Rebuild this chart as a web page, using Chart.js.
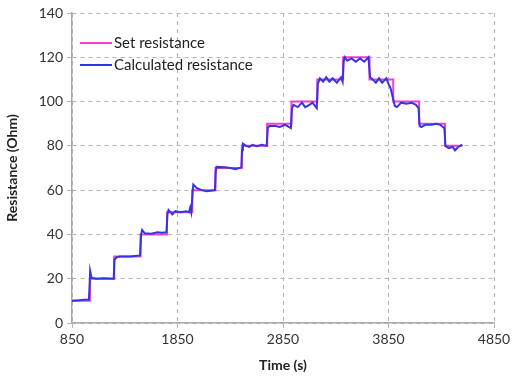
<!DOCTYPE html>
<html>
<head>
<meta charset="utf-8">
<script src="https://cdn.jsdelivr.net/npm/chart.js@4/dist/chart.umd.min.js"></script>
<style>
    html, body { margin: 0; padding: 0; background: #fff; }
    #wrap { width: 522px; height: 378px; }
</style>
</head>
<body>
<div id="wrap"><canvas id="res_graph" width="522" height="378"></canvas></div>
<script>
// set resistance, step points (value holds until next time)
const setTime = [850, 1020, 1250, 1500, 1750, 1990, 2210, 2460, 2700, 2930, 3175, 3420, 3670, 3895, 4140, 4385, 4550]
const setValue = [10, 20, 30, 40, 50, 60, 70, 80, 90, 100, 110, 120, 110, 100, 90, 80, 80]

// calculated resistance
const calcTime = [
    850, 900, 960, 1010, 1018, 1022, 1035, 1080, 1150, 1245,
    1252, 1270, 1300, 1400, 1495,
    1505, 1515, 1540, 1600, 1660, 1700, 1745,
    1755, 1765, 1785, 1800, 1830, 1880, 1930, 1960, 1970, 1980,
    1995, 2000, 2030, 2080, 2130, 2205,
    2212, 2220, 2300, 2350, 2400, 2455,
    2462, 2470, 2500, 2530, 2560, 2600, 2650, 2695,
    2705, 2720, 2780, 2820, 2870, 2925,
    2935, 2950, 2990, 3030, 3060, 3100, 3130, 3170,
    3180, 3200, 3230, 3260, 3290, 3320, 3360, 3400, 3415,
    3425, 3435, 3460, 3500, 3540, 3580, 3620, 3660,
    3675, 3700, 3730, 3760, 3790, 3830, 3850, 3870, 3895,
    3910, 3930, 3970, 4020, 4070, 4110, 4135,
    4145, 4160, 4200, 4260, 4300, 4340, 4380,
    4390, 4420, 4460, 4480, 4510, 4550
]
const calcValue = [
    10, 10.2, 10.5, 10.6, 18, 23.5, 20.5, 20, 20.2, 20,
    28.5, 29.5, 30, 30, 30.5,
    40, 42, 40.5, 40.3, 41, 40.8, 41,
    49, 51, 50, 49, 50.5, 50, 50.5, 50, 52, 50,
    60, 62.5, 61, 60, 59.5, 60,
    68, 70.5, 70.3, 70, 69.5, 70.3,
    78, 81, 80, 79.5, 80.5, 79.8, 80.5, 80,
    88, 89, 89, 88.5, 89.5, 88,
    97, 98.5, 97.5, 99.5, 97.5, 98.5, 99.5, 97,
    108, 110.5, 109, 111, 109, 110.5, 108.5, 111, 109,
    118, 120, 118.5, 119.5, 118, 119.5, 118, 120,
    111, 110, 108.5, 110.5, 108.5, 110.5, 108, 106, 101,
    98, 97.5, 99.5, 99, 99.5, 98.5, 97,
    89, 88.5, 89.5, 89.5, 90, 89.5, 88,
    80, 79, 79.5, 78, 79.5, 80.5
]

const xTicks = [850, 1850, 2850, 3850, 4850]
const yTicks = [0, 20, 40, 60, 80, 100, 120, 140]

function toPoints(xs, ys){
    let pts = []
    for(let i = 0; i < xs.length; i++){
        pts.push({x: xs[i], y: ys[i]})
    }
    return pts
}

const pink = "#f23fc4"
const blue = "#3434e4"
const gridColor = "#b4b4b4"
const font = "Lato, 'Open Sans', sans-serif"

// legend drawn inside the plot, top left
const innerLegend = {
    id: "innerLegend",
    afterDraw(chart){
        const ctx = chart.ctx
        const items = chart.data.datasets
        ctx.save()
        ctx.font = "15px " + font
        ctx.textBaseline = "middle"
        for(let i = 0; i < items.length; i++){
            let y = 43 + i * 22
            ctx.strokeStyle = items[i].borderColor
            ctx.lineWidth = 2
            ctx.beginPath()
            ctx.moveTo(80, y)
            ctx.lineTo(112, y)
            ctx.stroke()
            ctx.fillStyle = "#222"
            ctx.fillText(items[i].label, 114, y)
        }
        ctx.restore()
    }
}

const config = {
    type: "line",
    data: {
        datasets: [{
            label: "Set resistance",
            data: toPoints(setTime, setValue),
            borderColor: pink,
            borderWidth: 2,
            stepped: "before",
            pointRadius: 0,
            order: 2
        }, {
            label: "Calculated resistance",
            data: toPoints(calcTime, calcValue),
            borderColor: blue,
            borderWidth: 2,
            tension: 0,
            pointRadius: 0,
            order: 1
        }]
    },
    options: {
        responsive: false,
        animation: false,
        layout: {padding: {top: 13, right: 28, left: 0, bottom: 0}},
        plugins: {
            legend: {display: false},
            tooltip: {enabled: false}
        },
        scales: {
            x: {
                type: "linear",
                min: 850,
                max: 4850,
                afterBuildTicks: axis => { axis.ticks = xTicks.map(v => ({value: v})) },
                afterFit: axis => { axis.height = 55 },
                grid: {color: gridColor, tickLength: 5},
                border: {color: "#a8a8a8", width: 1.5, dash: [4, 4]},
                ticks: {color: "#333", font: {family: font, size: 14}, padding: 3, maxRotation: 0, callback: v => String(v)},
                title: {display: true, text: "Time (s)", color: "#222", font: {family: font, size: 14, weight: "bold"}, padding: {top: 2}}
            },
            y: {
                min: 0,
                max: 140,
                afterBuildTicks: axis => { axis.ticks = yTicks.map(v => ({value: v})) },
                afterFit: axis => { axis.width = 72 },
                grid: {color: gridColor, tickLength: 5},
                border: {color: "#a8a8a8", width: 1.5, dash: [4, 4]},
                ticks: {color: "#333", font: {family: font, size: 14}, padding: 4, callback: v => String(v)},
                title: {display: true, text: "Resistance (Ohm)", color: "#222", font: {family: font, size: 14, weight: "bold"}, padding: {bottom: 4}}
            }
        }
    },
    plugins: [innerLegend]
}

const chart = new Chart(document.getElementById("res_graph"), config)
</script>
</body>
</html>
